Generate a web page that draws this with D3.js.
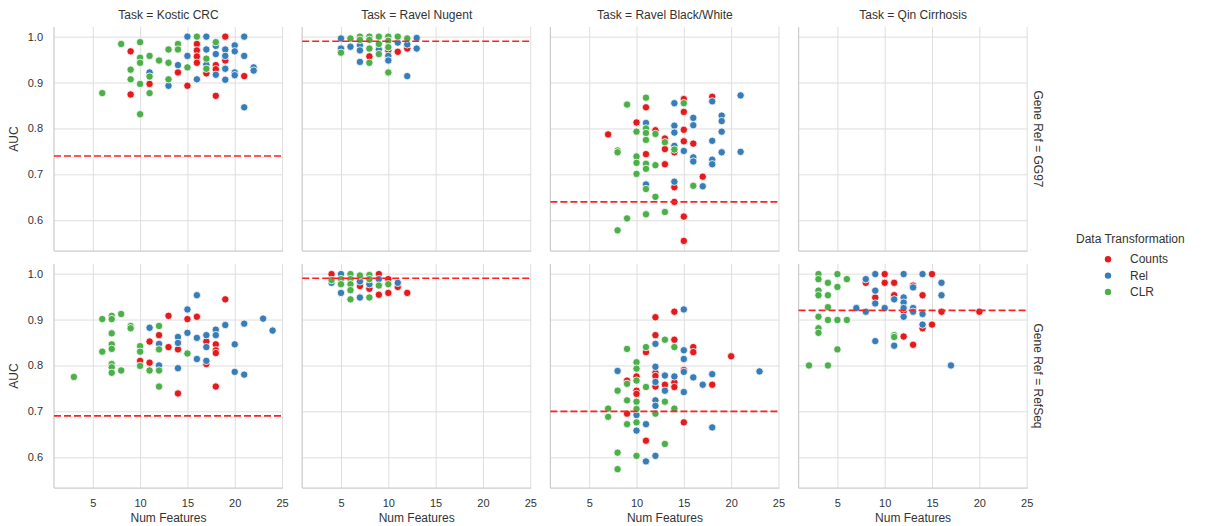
<!DOCTYPE html>
<html>
<head>
<meta charset="utf-8">
<script src="https://cdn.jsdelivr.net/npm/d3@7"></script>
<style>
  body { margin: 0; background: #fff; }
  svg text { font-family: Arial, "Liberation Sans", sans-serif; fill: #333; }
</style>
</head>
<body>
<div id="chart"></div>
<script>
'use strict';

// Facets
var tasks = ['Kostic CRC', 'Ravel Nugent', 'Ravel Black/White', 'Qin Cirrhosis'];
var geneRefs = ['GG97', 'RefSeq'];
var transformations = ['Counts', 'Rel', 'CLR'];
var colors = ['#e41a1c', '#377eb8', '#4daf4a'];
var xTicks = [5, 10, 15, 20, 25];
var yTicks = [0.6, 0.7, 0.8, 0.9, 1.0];

// Reference AUC (dashed line), one per task
var baselineGG97 = [0.74, 0.99, 0.64, null];
var baselineRefSeq = [0.69, 0.99, 0.70, 0.92];

// Points: [num features, AUC]
var kosticGG97 = {
  Counts: [[9,.968],[9,.874],[11,.897],[14,.922],[15,.893],[16,.984],[16,.970],[16,.957],[16,.943],[17,.920],[18,.938],[18,.929],[18,.871],[19,1.0],[19,.948],[21,.914]],
  Rel: [[11,.922],[13,.893],[14,.938],[15,1.0],[15,.958],[16,.907],[17,1.0],[17,.972],[17,.939],[18,.980],[18,.962],[18,.917],[19,.972],[19,.958],[19,.930],[19,.906],[20,.981],[20,.968],[20,.922],[20,.916],[21,1.0],[21,.958],[21,.846],[22,.933],[22,.926]],
  CLR: [[6,.877],[8,.984],[9,.928],[9,.907],[10,.988],[10,.954],[10,.943],[10,.897],[10,.831],[11,.958],[11,.913],[11,.877],[12,.948],[13,.972],[13,.943],[13,.907],[14,.984],[14,.972],[15,.933],[16,1.0],[17,.952],[17,.930],[18,.988]]
};
var nugentGG97 = {
  Counts: [[8,.957],[10,.970],[11,.967],[12,.974]],
  Rel: [[5,.996],[5,.974],[6,.978],[7,.981],[7,.970],[7,.945],[9,.972],[10,.958],[10,.948],[11,.987],[12,.983],[12,.914],[13,.997],[13,.974]],
  CLR: [[5,.965],[6,.996],[7,1.0],[7,.993],[8,1.0],[8,.993],[8,.974],[8,.943],[9,1.0],[9,.984],[9,.962],[10,1.0],[10,.991],[10,.977],[10,.922],[11,1.0],[12,.996]]
};
var blackWhiteGG97 = {
  Counts: [[7,.787],[10,.813],[11,.846],[11,.744],[12,.796],[13,.778],[13,.755],[13,.722],[14,.748],[14,.672],[14,.640],[15,.864],[15,.836],[15,.797],[15,.772],[15,.608],[15,.555],[16,.767],[17,.695],[18,.869]],
  Rel: [[11,.812],[11,.678],[14,.855],[14,.806],[14,.791],[14,.762],[14,.684],[15,.751],[16,.823],[16,.807],[16,.737],[16,.728],[17,.674],[18,.859],[18,.773],[18,.732],[18,.722],[19,.828],[19,.816],[19,.793],[19,.748],[21,.872],[21,.749]],
  CLR: [[8,.752],[8,.748],[8,.578],[9,.852],[9,.604],[10,.793],[10,.739],[10,.725],[10,.701],[11,.867],[11,.800],[11,.790],[11,.775],[11,.723],[11,.712],[11,.668],[11,.613],[12,.788],[12,.720],[12,.651],[13,.770],[13,.618],[14,.754],[15,.855],[16,.675]]
};
var qinGG97 = { Counts: [], Rel: [], CLR: [] };

var kosticRefSeq = {
  Counts: [[10,.810],[11,.852],[11,.806],[12,.866],[13,.908],[13,.840],[14,.835],[14,.739],[15,.901],[16,.906],[17,.852],[17,.803],[18,.846],[18,.833],[18,.827],[18,.754],[19,.944]],
  Rel: [[11,.882],[12,.847],[12,.800],[14,.862],[14,.849],[14,.794],[15,.922],[15,.871],[16,.953],[16,.860],[16,.814],[17,.866],[17,.840],[17,.810],[18,.878],[18,.866],[19,.888],[20,.846],[20,.786],[21,.891],[21,.780],[23,.902],[24,.876]],
  CLR: [[3,.775],[6,.901],[6,.830],[7,.908],[7,.901],[7,.870],[7,.846],[7,.836],[7,.803],[7,.796],[7,.784],[8,.912],[8,.789],[9,.886],[9,.881],[10,.842],[10,.830],[10,.799],[11,.789],[12,.886],[12,.835],[12,.789],[12,.754],[15,.826]]
};
var nugentRefSeq = {
  Counts: [[4,.999],[7,.973],[8,.967],[9,.999],[9,.954],[10,.988],[10,.958],[11,.971],[12,.958]],
  Rel: [[4,.980],[5,.999],[5,.958],[7,.983],[7,.948],[8,.977],[9,.988],[11,.980]],
  CLR: [[4,.986],[5,.988],[5,.977],[6,.999],[6,.988],[6,.977],[6,.964],[6,.944],[7,.996],[8,.997],[8,.988],[8,.948],[9,.974],[10,.977]]
};
var blackWhiteRefSeq = {
  Counts: [[9,.767],[9,.695],[10,.776],[10,.745],[10,.738],[11,.829],[11,.636],[12,.905],[12,.866],[12,.784],[12,.777],[12,.754],[13,.758],[14,.917],[14,.856],[14,.763],[14,.753],[15,.790],[15,.676],[16,.840],[16,.829],[18,.758],[20,.820]],
  Rel: [[8,.788],[10,.692],[10,.658],[11,.672],[11,.591],[12,.847],[12,.797],[12,.764],[12,.724],[12,.712],[12,.603],[13,.778],[13,.745],[14,.776],[15,.922],[15,.833],[15,.814],[15,.786],[15,.742],[16,.774],[17,.758],[18,.781],[18,.665],[23,.787]],
  CLR: [[7,.706],[7,.688],[8,.745],[8,.610],[8,.574],[9,.836],[9,.760],[9,.724],[9,.672],[10,.807],[10,.793],[10,.767],[10,.721],[10,.705],[10,.676],[10,.603],[11,.840],[11,.753],[12,.695],[13,.856],[13,.721],[13,.629],[14,.840],[14,.706]]
};
var qinRefSeq = {
  Counts: [[8,.980],[9,.948],[10,.999],[10,.980],[11,.980],[11,.953],[12,.918],[12,.863],[13,.974],[13,.845],[14,.953],[14,.881],[15,.999],[15,.889],[16,.917],[20,.917]],
  Rel: [[7,.925],[8,.988],[8,.917],[9,.999],[9,.963],[9,.935],[9,.853],[10,.925],[11,.944],[11,.843],[12,.999],[12,.948],[12,.937],[12,.925],[12,.906],[13,.970],[13,.925],[13,.917],[14,.999],[14,.912],[14,.889],[16,.980],[16,.953],[17,.800]],
  CLR: [[2,.800],[3,.999],[3,.988],[3,.963],[3,.953],[3,.906],[3,.881],[3,.871],[4,.980],[4,.953],[4,.927],[4,.899],[4,.800],[5,.999],[5,.971],[5,.899],[5,.835],[6,.988],[6,.899],[11,.866],[11,.862]]
};

var panelData = [
  [kosticGG97, nugentGG97, blackWhiteGG97, qinGG97],
  [kosticRefSeq, nugentRefSeq, blackWhiteRefSeq, qinRefSeq]
];
var baselines = [baselineGG97, baselineRefSeq];

// Chart dimensions
var width = 1205, height = 526;
var margin = {top: 27, left: 54};
var panelW = 229, panelH = 224;
var colStep = 248.2, rowStep = 237;

// Scales (shared across facets)
var xScale = d3.scaleLinear().domain([0.9, 25.1]).range([0, panelW]);
var yScale = d3.scaleLinear().domain([0.533, 1.021]).range([panelH, 0]);
var color = d3.scaleOrdinal().domain(transformations).range(colors);

var svg = d3.select('#chart')
  .append('svg')
  .attr('width', width)
  .attr('height', height);

geneRefs.forEach(function(ref, r) {
  tasks.forEach(function(task, c) {
    var g = svg.append('g')
      .attr('transform', 'translate(' + (margin.left + c * colStep) + ',' + (margin.top + r * rowStep) + ')');

    // x grid + labels
    var xAxis = d3.axisBottom(xScale)
      .tickValues(xTicks)
      .tickSize(-panelH)
      .tickPadding(11.5)
      .tickFormat(r === 1 ? d3.format('d') : '');
    var gx = g.append('g')
      .attr('class', 'x axis')
      .attr('transform', 'translate(0,' + panelH + ')')
      .call(xAxis);

    // y grid + labels
    var yAxis = d3.axisLeft(yScale)
      .tickValues(yTicks)
      .tickSize(-panelW)
      .tickPadding(11)
      .tickFormat(c === 0 ? d3.format('.1f') : '');
    var gy = g.append('g')
      .attr('class', 'y axis')
      .call(yAxis);

    [gx, gy].forEach(function(a) {
      a.select('.domain').remove();
      a.selectAll('line').attr('stroke', '#dedede').attr('stroke-width', 1);
      a.selectAll('text').attr('font-size', 11).attr('font-family', null).attr('fill', '#333');
    });

    // spines: left & bottom
    g.append('line')
      .attr('x1', 0).attr('x2', 0).attr('y1', 0).attr('y2', panelH)
      .attr('stroke', '#cccccc').attr('stroke-width', 1.25);
    g.append('line')
      .attr('x1', 0).attr('x2', panelW).attr('y1', panelH).attr('y2', panelH)
      .attr('stroke', '#cccccc').attr('stroke-width', 1.25);

    // points
    var data = panelData[r][c];
    transformations.forEach(function(t) {
      g.append('g')
        .selectAll('circle')
        .data(data[t])
        .enter()
        .append('circle')
        .attr('cx', function(d) { return xScale(d[0]); })
        .attr('cy', function(d) { return yScale(d[1]); })
        .attr('r', 3.7)
        .attr('fill', color(t))
        .attr('stroke', '#fff')
        .attr('stroke-width', 0.8);
    });

    // dashed reference line
    var b = baselines[r][c];
    if (b !== null) {
      g.append('line')
        .attr('x1', 0).attr('x2', panelW)
        .attr('y1', yScale(b)).attr('y2', yScale(b))
        .attr('stroke', '#ff2020')
        .attr('stroke-width', 1.7)
        .attr('stroke-dasharray', '7,3');
    }

    // titles
    if (r === 0) {
      g.append('text')
        .attr('x', panelW / 2).attr('y', -8)
        .attr('text-anchor', 'middle')
        .attr('font-size', 12)
        .text('Task = ' + task);
    }
    if (c === 3) {
      g.append('text')
        .attr('transform', 'translate(' + (panelW + 6) + ',' + (panelH / 2) + ') rotate(90)')
        .attr('text-anchor', 'middle')
        .attr('font-size', 12)
        .text('Gene Ref = ' + ref);
    }
    if (c === 0) {
      g.append('text')
        .attr('transform', 'translate(-36,' + (panelH / 2) + ') rotate(-90)')
        .attr('text-anchor', 'middle')
        .attr('font-size', 12)
        .text('AUC');
    }
    if (r === 1) {
      g.append('text')
        .attr('x', panelW / 2).attr('y', panelH + 33.7)
        .attr('text-anchor', 'middle')
        .attr('font-size', 12)
        .text('Num Features');
    }
  });
});

// Legend
var legend = svg.append('g').attr('transform', 'translate(1076,243)');
legend.append('text')
  .attr('x', 0).attr('y', 0)
  .attr('font-size', 12)
  .text('Data Transformation');
transformations.forEach(function(t, i) {
  var item = legend.append('g').attr('transform', 'translate(0,' + (16.3 + i * 16.3) + ')');
  item.append('circle')
    .attr('cx', 32).attr('cy', 0).attr('r', 3.2)
    .attr('fill', color(t));
  item.append('text')
    .attr('x', 54).attr('y', 4)
    .attr('font-size', 12)
    .text(t);
});
</script>
</body>
</html>
